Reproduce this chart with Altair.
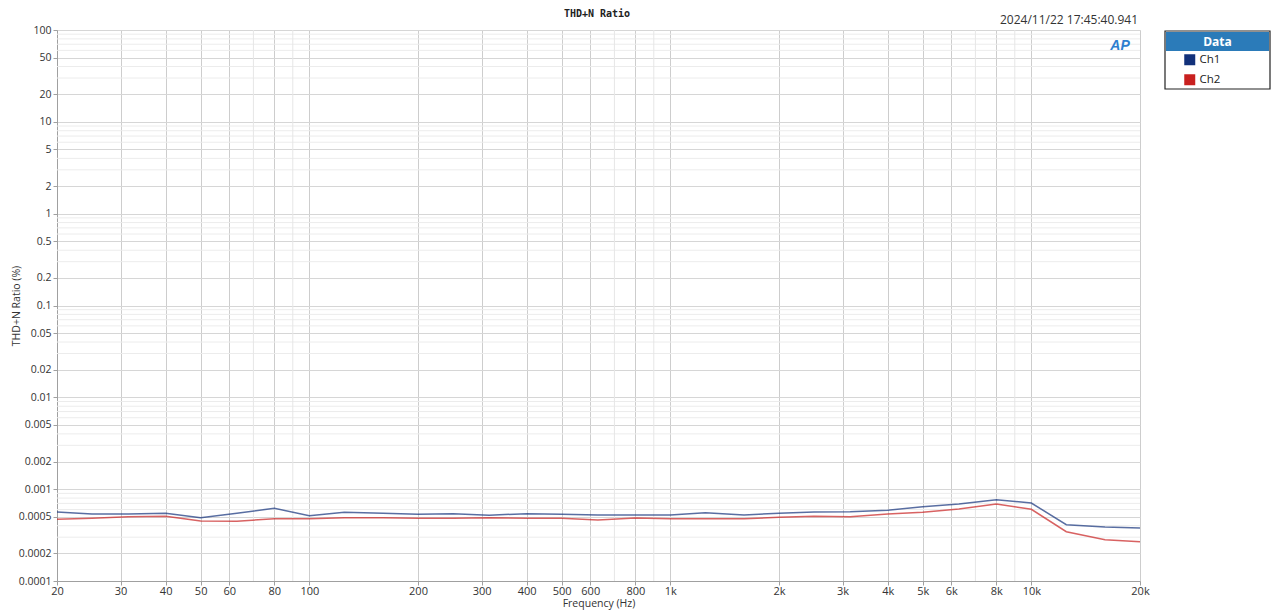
import altair as alt
import pandas as pd

# ---------------- data ----------------
freqs = [20, 25, 31.5, 40, 50, 63, 80, 100, 125, 160, 200, 250, 315, 400, 500, 630,
         800, 1000, 1250, 1600, 2000, 2500, 3150, 4000, 5000, 6300, 8000, 10000,
         12500, 16000, 20000]
ch1 = [0.000564, 0.000537, 0.000537, 0.000546, 0.000489, 0.000548, 0.000619, 0.000514,
       0.000560, 0.000546, 0.000533, 0.000541, 0.000520, 0.000541, 0.000533, 0.000524,
       0.000524, 0.000524, 0.000555, 0.000524, 0.000546, 0.000564, 0.000569, 0.000589,
       0.000645, 0.000690, 0.000769, 0.000707, 0.000410, 0.000387, 0.000378]
ch2 = [0.000470, 0.000482, 0.000501, 0.000507, 0.000450, 0.000447, 0.000477, 0.000477,
       0.000489, 0.000489, 0.000482, 0.000482, 0.000489, 0.000482, 0.000482, 0.000462,
       0.000486, 0.000477, 0.000477, 0.000477, 0.000494, 0.000507, 0.000501, 0.000537,
       0.000560, 0.000609, 0.000690, 0.000604, 0.000344, 0.000282, 0.000268]
channels = ["Ch1", "Ch2"]
channel_colors = ["#12317a", "#c8201f"]

x_ticks = [20, 30, 40, 50, 60, 80, 100, 200, 300, 400, 500, 600, 800, 1000, 2000,
           3000, 4000, 5000, 6000, 8000, 10000, 20000]
x_minor = [70, 90, 700, 900, 7000, 9000]
y_ticks = [100, 50, 20, 10, 5, 2, 1, 0.5, 0.2, 0.1, 0.05, 0.02, 0.01, 0.005, 0.002,
           0.001, 0.0005, 0.0002, 0.0001]
y_minor = [m * 10 ** e for e in range(-4, 2) for m in (3, 4, 6, 7, 8, 9)]

title_text = "THD+N Ratio"
timestamp = "2024/11/22 17:45:40.941"
x_title = "Frequency (Hz)"
y_title = "THD+N Ratio (%)"

# ---------------- tables ----------------
df = pd.DataFrame({
    "freq": freqs * 2,
    "value": ch1 + ch2,
    "ch": ["Ch1"] * len(freqs) + ["Ch2"] * len(freqs),
})
df_xminor = pd.DataFrame({"g": x_minor})
df_yminor = pd.DataFrame({"g": y_minor})

FONT = "Open Sans"
W, H = 1083, 551

xscale = alt.Scale(type="log", domain=[20, 20000], nice=False)
yscale = alt.Scale(type="log", domain=[0.0001, 100], nice=False)

xaxis = alt.Axis(values=x_ticks, title=x_title,
                 labelExpr="datum.value >= 1000 ? (datum.value/1000) + 'k' : '' + datum.value",
                 grid=True, gridColor="#cdcdcd", gridWidth=1,
                 domainColor="#a0a0a0", tickColor="#a0a0a0", tickSize=4,
                 labelFont=FONT, labelFontSize=11, labelColor="#333333",
                 labelPadding=0, labelFlush=False, labelOverlap=False,
                 titleFont=FONT, titleFontSize=10.5, titleFontWeight="normal",
                 titleColor="#333333", titlePadding=2)
yaxis = alt.Axis(values=y_ticks, title=y_title,
                 labelExpr="'' + datum.value",
                 grid=True, gridColor="#d6d6d6", gridWidth=1,
                 domainColor="#a0a0a0", tickColor="#a0a0a0", tickSize=4,
                 labelFont=FONT, labelFontSize=10.5, labelColor="#333333",
                 labelPadding=2, labelFlush=False, labelOverlap=False,
                 titleFont=FONT, titleFontSize=10.5, titleFontWeight="normal",
                 titleColor="#333333", titlePadding=-3)

yminor = alt.Chart(df_yminor).mark_rule(color="#ececec", strokeWidth=1).encode(
    y=alt.Y("g:Q", scale=yscale, axis=yaxis)
)
xminor = alt.Chart(df_xminor).mark_rule(color="#e6e6e6", strokeWidth=1).encode(
    x=alt.X("g:Q", scale=xscale, axis=xaxis)
)

lines = alt.Chart(df).mark_line(strokeWidth=1.5, opacity=0.7).encode(
    x=alt.X("freq:Q", scale=xscale, axis=xaxis),
    y=alt.Y("value:Q", scale=yscale, axis=yaxis),
    color=alt.Color("ch:N", scale=alt.Scale(domain=channels, range=channel_colors),
                    legend=None),
    detail="ch:N",
)

legend_pts = alt.Chart(df).mark_square(opacity=0, size=1).encode(
    x=alt.X("freq:Q", scale=xscale, axis=xaxis),
    y=alt.Y("value:Q", scale=yscale, axis=yaxis),
    fill=alt.Fill("ch:N", scale=alt.Scale(domain=channels, range=channel_colors),
                  legend=alt.Legend(title=None, orient="none",
                                    legendX=1127, legendY=24,
                                    padding=0, symbolType="square",
                                    symbolSize=121, symbolOpacity=1,
                                    symbolStrokeWidth=0,
                                    labelFont=FONT, labelFontSize=11.5,
                                    labelColor="#222222", labelOffset=4,
                                    rowPadding=7)),
)

# legend frame + header
legend_box = alt.Chart(pd.DataFrame({"k": [0]})).mark_rect(
    fill="white", stroke="#222222", strokeWidth=1.2).encode(
    x=alt.value(1108), x2=alt.value(1213), y=alt.value(1), y2=alt.value(59))
legend_head = alt.Chart(pd.DataFrame({"k": [0]})).mark_rect(
    fill="#2b7bb9").encode(
    x=alt.value(1109), x2=alt.value(1212), y=alt.value(2), y2=alt.value(21))
legend_title = alt.Chart(pd.DataFrame({"t": ["Data"]})).mark_text(
    font=FONT, fontSize=12, fontWeight="bold", color="white",
    align="center", baseline="middle").encode(
    x=alt.value(1160.5), y=alt.value(11.5), text="t:N")

title = alt.Chart(pd.DataFrame({"t": [title_text]})).mark_text(
    font="DejaVu Sans Mono", fontSize=10, fontWeight="bold", color="#222222",
    align="center", baseline="middle").encode(
    x=alt.value(540), y=alt.value(-16), text="t:N")

stamp = alt.Chart(pd.DataFrame({"t": [timestamp]})).mark_text(
    font=FONT, fontSize=12, color="#333333", align="right", baseline="middle").encode(
    x=alt.value(1081), y=alt.value(-10), text="t:N")

logo = alt.Chart(pd.DataFrame({"t": ["AP"]})).mark_text(
    font="Liberation Sans", fontSize=14, fontWeight="bold", fontStyle="italic",
    color="#2e7fd0", align="center", baseline="middle").encode(
    x=alt.value(1063), y=alt.value(16), text="t:N")

chart = alt.layer(
    yminor, xminor, lines, legend_box, legend_head, legend_title, legend_pts,
    title, stamp, logo
).resolve_scale(
    color="independent", fill="independent"
).properties(
    width=W, height=H,
    padding={"left": 49, "top": 22, "right": 132, "bottom": 30},
    autosize=alt.AutoSizeParams(type="none"),
).configure_view(
    stroke="#a0a0a0", strokeWidth=1
).configure(
    background="white"
)

chart.save("out.html", embed_options={"renderer": "svg", "actions": False})
